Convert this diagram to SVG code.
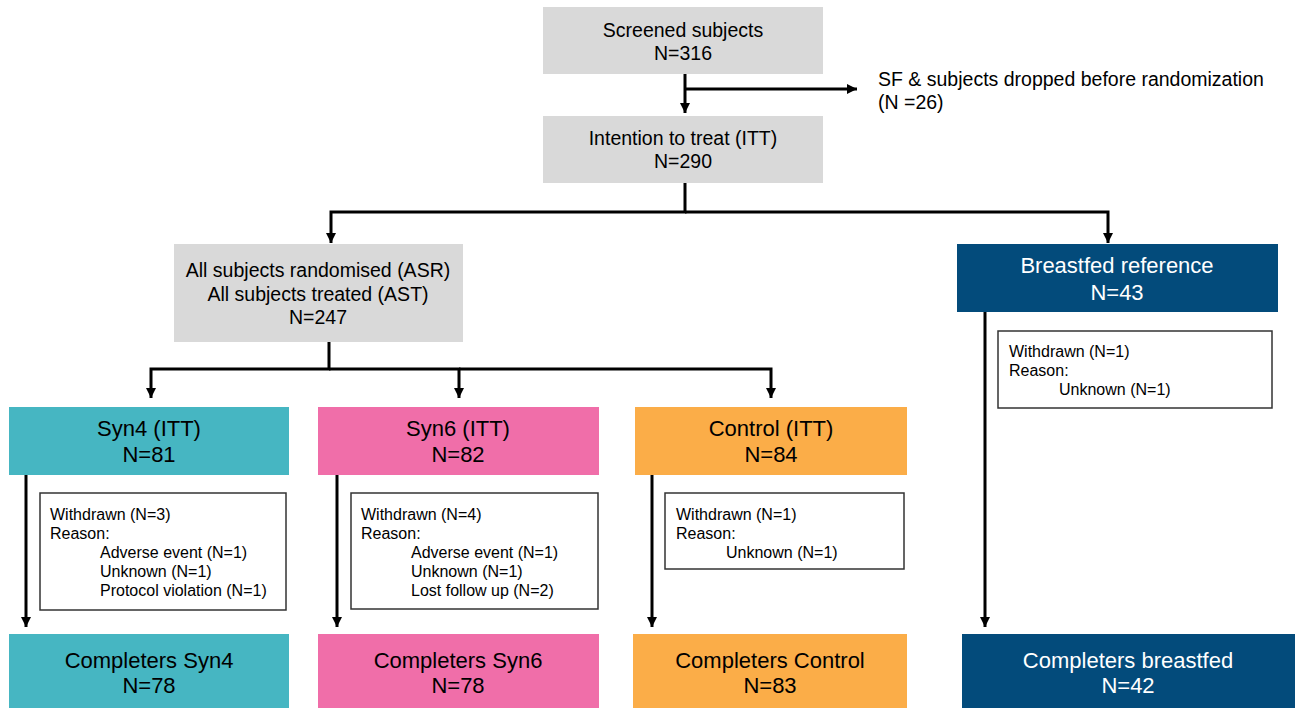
<svg xmlns="http://www.w3.org/2000/svg" width="1298" height="708" viewBox="0 0 1298 708">
<defs>
<marker id="ah" markerUnits="userSpaceOnUse" markerWidth="12" markerHeight="12" refX="10" refY="5" orient="auto">
<path d="M0,0 L10,5 L0,10 Z" fill="#000"/>
</marker>
<style>
.grey{fill:#d9d9d9}
.teal{fill:#46b6c2}
.pink{fill:#f06ea9}
.orange{fill:#fbad48}
.navy{fill:#034b7b}
.wd{fill:#fff;stroke:#333;stroke-width:1.5}
text{font-family:"Liberation Sans",Arial,sans-serif;fill:#000}
.t19{font-size:19.5px;text-anchor:middle}
.t22{font-size:22px;text-anchor:middle}
.w{fill:#fff}
.s16{font-size:16px}
.con{fill:none;stroke:#000;stroke-width:3}
</style>
</defs>
<g id="connectors">
<path class="con" d="M685,74 V113" marker-end="url(#ah)"/>
<path class="con" d="M685,89 H857" marker-end="url(#ah)"/>
<path class="con" d="M685,183 V212 H331 V243" marker-end="url(#ah)"/>
<path class="con" d="M685,212 H1108 V243" marker-end="url(#ah)"/>
<path class="con" d="M329,342 V369 H151 V398" marker-end="url(#ah)"/>
<path class="con" d="M329,369 H459 V398" marker-end="url(#ah)"/>
<path class="con" d="M459,369 H771 V398" marker-end="url(#ah)"/>
<path class="con" d="M26,475 V627" marker-end="url(#ah)"/>
<path class="con" d="M337,475 V627" marker-end="url(#ah)"/>
<path class="con" d="M652,475 V627" marker-end="url(#ah)"/>
<path class="con" d="M985,312 V627" marker-end="url(#ah)"/>
</g>
<g id="screened">
<rect class="grey" x="543" y="7" width="280" height="67"/>
<text class="t19" x="683" y="37">Screened subjects</text>
<text class="t19" x="683" y="60">N=316</text>
</g>
<g id="dropped">
<text style="font-size:19.5px" x="878" y="86">SF &amp; subjects dropped before randomization</text>
<text style="font-size:19.5px" x="878" y="109">(N =26)</text>
</g>
<g id="itt">
<rect class="grey" x="543" y="116" width="280" height="67"/>
<text class="t19" x="683" y="145">Intention to treat (ITT)</text>
<text class="t19" x="683" y="168">N=290</text>
</g>
<g id="asr">
<rect class="grey" x="174" y="244" width="289" height="98"/>
<text class="t19" x="318" y="277">All subjects randomised (ASR)</text>
<text class="t19" x="318" y="301">All subjects treated (AST)</text>
<text class="t19" x="318" y="324">N=247</text>
</g>
<g id="breastfed">
<rect class="navy" x="957" y="244" width="321" height="68"/>
<text class="t22 w" x="1117" y="273">Breastfed reference</text>
<text class="t22 w" x="1117" y="300">N=43</text>
</g>
<g id="breastfed-withdrawn">
<rect class="wd" x="998" y="331" width="274" height="77"/>
<text class="s16" x="1009" y="357">Withdrawn (N=1)</text>
<text class="s16" x="1009" y="376">Reason:</text>
<text class="s16" x="1059" y="395">Unknown (N=1)</text>
</g>
<g id="syn4">
<rect class="teal" x="9" y="407" width="280" height="68"/>
<text class="t22" x="149" y="436">Syn4 (ITT)</text>
<text class="t22" x="149" y="462">N=81</text>
</g>
<g id="syn4-withdrawn">
<rect class="wd" x="40" y="493" width="246" height="117"/>
<text class="s16" x="50" y="520">Withdrawn (N=3)</text>
<text class="s16" x="50" y="539">Reason:</text>
<text class="s16" x="100" y="558">Adverse event (N=1)</text>
<text class="s16" x="100" y="577">Unknown (N=1)</text>
<text class="s16" x="100" y="596">Protocol violation (N=1)</text>
</g>
<g id="syn4-completers">
<rect class="teal" x="9" y="634" width="280" height="74"/>
<text class="t22" x="149" y="668">Completers Syn4</text>
<text class="t22" x="149" y="693">N=78</text>
</g>
<g id="syn6">
<rect class="pink" x="318" y="407" width="281" height="68"/>
<text class="t22" x="458" y="436">Syn6 (ITT)</text>
<text class="t22" x="458" y="462">N=82</text>
</g>
<g id="syn6-withdrawn">
<rect class="wd" x="351" y="493" width="247" height="116"/>
<text class="s16" x="361" y="520">Withdrawn (N=4)</text>
<text class="s16" x="361" y="539">Reason:</text>
<text class="s16" x="411" y="558">Adverse event (N=1)</text>
<text class="s16" x="411" y="577">Unknown (N=1)</text>
<text class="s16" x="411" y="596">Lost follow up (N=2)</text>
</g>
<g id="syn6-completers">
<rect class="pink" x="318" y="634" width="281" height="74"/>
<text class="t22" x="458" y="668">Completers Syn6</text>
<text class="t22" x="458" y="693">N=78</text>
</g>
<g id="control">
<rect class="orange" x="635" y="407" width="272" height="68"/>
<text class="t22" x="771" y="436">Control (ITT)</text>
<text class="t22" x="771" y="462">N=84</text>
</g>
<g id="control-withdrawn">
<rect class="wd" x="665" y="493" width="239" height="76"/>
<text class="s16" x="676" y="520">Withdrawn (N=1)</text>
<text class="s16" x="676" y="539">Reason:</text>
<text class="s16" x="726" y="558">Unknown (N=1)</text>
</g>
<g id="control-completers">
<rect class="orange" x="633" y="634" width="274" height="74"/>
<text class="t22" x="770" y="668">Completers Control</text>
<text class="t22" x="770" y="693">N=83</text>
</g>
<g id="breastfed-completers">
<rect class="navy" x="962" y="634" width="333" height="74"/>
<text class="t22 w" x="1128" y="668">Completers breastfed</text>
<text class="t22 w" x="1128" y="693">N=42</text>
</g>
</svg>
